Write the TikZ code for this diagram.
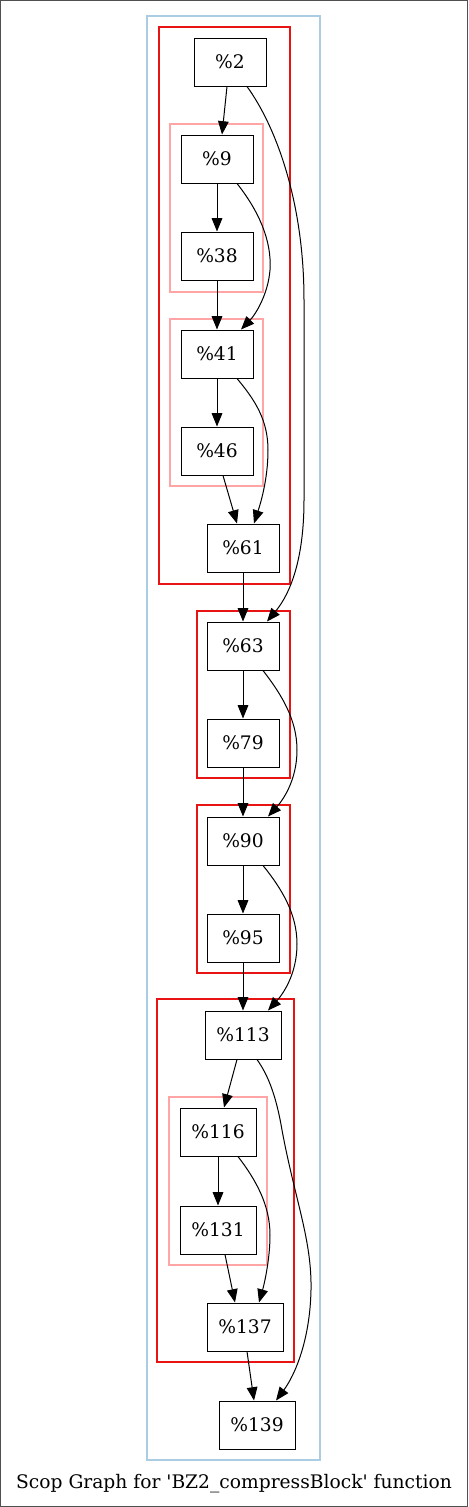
\documentclass[tikz,border=0pt]{standalone}
\usepackage{fontspec}
\newfontfamily\dvs{DejaVu Serif}
\usetikzlibrary{arrows.meta,calc}
\definecolor{pinkc}{RGB}{255,165,165}
\definecolor{bluec}{RGB}{170,205,228}
\definecolor{redc}{RGB}{232,20,20}
\begin{document}
\begin{tikzpicture}[x=0.75pt,y=-0.75pt,
  bb/.style={draw=black,line width=0.75pt,minimum width=54pt,minimum height=36pt,inner sep=0pt,font=\dvs\fontsize{14pt}{16pt}\selectfont},
  wb/.style={bb,minimum width=57pt},
  clu/.style={line width=0.8pt},
  edge/.style={draw=black,line width=0.75pt,-{Triangle[length=10pt,width=8pt]}}]
\useasboundingbox (0,0) rectangle (468,1507);
\draw[line width=0.75pt,draw={rgb,255:red,80;green,80;blue,80}] (0.5,0.5) rectangle (467.5,1506.5);
% clusters
\draw[clu,draw=bluec] (147,16) rectangle (320,1460);
\draw[clu,draw=redc] (159,27) rectangle (290,584);
\draw[clu,draw=pinkc] (170,124) rectangle (263,292);
\draw[clu,draw=pinkc] (170,319) rectangle (263,486);
\draw[clu,draw=redc] (197,611) rectangle (290,778);
\draw[clu,draw=redc] (197,805) rectangle (290,973);
\draw[clu,draw=redc] (157,999) rectangle (294,1362);
\draw[clu,draw=pinkc] (169,1097) rectangle (267,1265);
% nodes
\node[bb] (n2) at (230,62) {\%2};
\node[bb] (n9) at (217,159) {\%9};
\node[bb] (n38) at (217,256) {\%38};
\node[bb] (n41) at (217,354) {\%41};
\node[bb] (n46) at (217,451) {\%46};
\node[bb] (n61) at (243,548) {\%61};
\node[bb] (n63) at (243,646) {\%63};
\node[bb] (n79) at (243,743) {\%79};
\node[bb] (n90) at (243,841) {\%90};
\node[bb] (n95) at (243,938) {\%95};
\node[wb] (n113) at (243,1035) {\%113};
\node[wb] (n116) at (218,1132) {\%116};
\node[wb] (n131) at (218,1230) {\%131};
\node[wb] (n137) at (245,1327) {\%137};
\node[wb] (n139) at (257,1425) {\%139};
\node[font=\dvs\fontsize{14pt}{16pt}\selectfont] (title) at (234,1484) {Scop Graph for 'BZ2\_compressBlock' function};
% edges
\draw[edge] ($(n2.south)+(-3,0)$) -- ($(n9.north)+(5,0)$);
\draw[edge] ($(n2.south)+(17,0)$) .. controls (275,125) and (304,200) .. (304,300) -- (304,500) .. controls (304,570) and (285,600) .. ($(n63.north)+(24,0)$);
\draw[edge] (n9.south) -- (n38.north);
\draw[edge] ($(n9.south)+(20,0)$) .. controls (258,210) and (272,240) .. (270,270) .. controls (268,295) and (255,315) .. ($(n41.north)+(24,0)$);
\draw[edge] (n38.south) -- (n41.north);
\draw[edge] (n41.south) -- (n46.north);
\draw[edge] ($(n41.south)+(20,0)$) .. controls (255,400) and (268,420) .. (268,450) .. controls (268,480) and (260,505) .. ($(n61.north)+(11,0)$);
\draw[edge] ($(n46.south)+(6,0)$) -- ($(n61.north)+(-6,0)$);
\draw[edge] (n61.south) -- (n63.north);
\draw[edge] (n63.south) -- (n79.north);
\draw[edge] ($(n63.south)+(20,0)$) .. controls (282,695) and (297,720) .. (297,750) .. controls (297,780) and (283,800) .. ($(n90.north)+(25,0)$);
\draw[edge] (n79.south) -- (n90.north);
\draw[edge] (n90.south) -- (n95.north);
\draw[edge] ($(n90.south)+(20,0)$) .. controls (282,889) and (297,914) .. (297,944) .. controls (297,974) and (283,994) .. ($(n113.north)+(25,0)$);
\draw[edge] (n95.south) -- (n113.north);
\draw[edge] ($(n113.south)+(-6,0)$) -- ($(n116.north)+(6,0)$);
\draw[edge] ($(n113.south)+(14,0)$) .. controls (268,1075) and (276,1095) .. (282,1130) .. controls (295,1200) and (312,1240) .. (311,1290) .. controls (310,1340) and (295,1375) .. ($(n139.north)+(19,0)$);
\draw[edge] (n116.south) -- (n131.north);
\draw[edge] ($(n116.south)+(20,0)$) .. controls (256,1180) and (270,1205) .. (270,1235) .. controls (270,1260) and (264,1285) .. ($(n137.north)+(14,0)$);
\draw[edge] ($(n131.south)+(7,0)$) -- ($(n137.north)+(-10,0)$);
\draw[edge] ($(n137.south)+(2,0)$) -- ($(n139.north)+(-3,0)$);
\end{tikzpicture}
\end{document}
